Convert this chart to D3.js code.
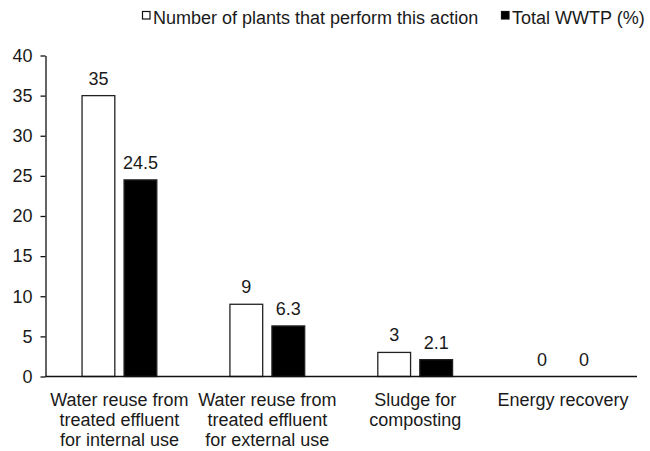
<!DOCTYPE html>
<html>
<head>
<meta charset="utf-8">
<script src="https://cdn.jsdelivr.net/npm/d3@7"></script>
<style>
  body { margin: 0; background: #fff; }
  svg { display: block; font-family: Arial, "Liberation Sans", sans-serif; }
  text { fill: #1a1a1a; }
</style>
</head>
<body>
<svg id="chart"></svg>
<script>
var width = 650;
var height = 451;

var categories = [
  ['Water reuse from', 'treated effluent', 'for internal use'],
  ['Water reuse from', 'treated effluent', 'for external use'],
  ['Sludge for', 'composting'],
  ['Energy recovery']
];
var seriesNames = ['Number of plants that perform this action', 'Total WWTP (%)'];
var plantCounts = [35, 9, 3, 0];
var totalPercent = [24.5, 6.3, 2.1, 0];
var yTicks = [0, 5, 10, 15, 20, 25, 30, 35, 40];

var plotLeft = 45.5;
var plotRight = 637;
var plotBottom = 376.5;
var plotTop = 55.5;

var svg = d3.select('#chart')
  .attr('width', width)
  .attr('height', height);

var x0 = d3.scaleBand()
  .domain(d3.range(categories.length))
  .range([plotLeft, plotRight]);

var x1 = d3.scaleBand()
  .domain([0, 1])
  .range([0, x0.bandwidth()])
  .paddingInner(0.22)
  .paddingOuter(0.87);

var yScale = d3.scaleLinear()
  .domain([0, 40])
  .range([plotBottom, plotTop]);

// y axis
var yAxis = svg.append('g')
  .attr('transform', 'translate(' + plotLeft + ',0)')
  .call(d3.axisLeft(yScale)
    .tickValues(yTicks)
    .tickSizeInner(5)
    .tickSizeOuter(0)
    .tickPadding(8));

yAxis.select('.domain').attr('stroke', '#111').attr('stroke-width', 1.3);
yAxis.selectAll('.tick line').attr('stroke', '#111').attr('stroke-width', 1.3);
yAxis.selectAll('.tick text')
  .attr('font-size', 18)
  .attr('font-family', 'Arial, "Liberation Sans", sans-serif')
  .attr('fill', '#1a1a1a');

// bars
var rows = categories.map((c, i) => ({ i: i, values: [plantCounts[i], totalPercent[i]] }));

var groups = svg.selectAll('.group')
  .data(rows)
  .enter()
  .append('g')
  .attr('class', 'group')
  .attr('transform', d => 'translate(' + x0(d.i) + ',0)');

groups.selectAll('rect')
  .data(d => d.values.map((v, s) => ({ s: s, v: v })).filter(d => d.v > 0))
  .enter()
  .append('rect')
  .attr('x', d => x1(d.s))
  .attr('y', d => yScale(d.v))
  .attr('width', x1.bandwidth())
  .attr('height', d => plotBottom - yScale(d.v))
  .attr('fill', d => d.s === 0 ? '#fff' : '#000')
  .attr('stroke', '#222')
  .attr('stroke-width', 1.3);

groups.selectAll('.val')
  .data(d => d.values.map((v, s) => ({ s: s, v: v })))
  .enter()
  .append('text')
  .attr('class', 'val')
  .attr('x', d => x1(d.s) + x1.bandwidth() / 2)
  .attr('y', d => yScale(d.v) - 11)
  .attr('text-anchor', 'middle')
  .attr('font-size', 18)
  .text(d => d.v);

// x axis line
svg.append('line')
  .attr('x1', plotLeft)
  .attr('x2', plotRight)
  .attr('y1', plotBottom)
  .attr('y2', plotBottom)
  .attr('stroke', '#111')
  .attr('stroke-width', 1.3);

// category labels
var labels = svg.selectAll('.cat')
  .data(categories)
  .enter()
  .append('text')
  .attr('class', 'cat')
  .attr('text-anchor', 'middle')
  .attr('font-size', 18)
  .attr('y', 406);

labels.each(function(lines, i) {
  d3.select(this).selectAll('tspan')
    .data(lines)
    .enter()
    .append('tspan')
    .attr('x', x0(i) + x0.bandwidth() / 2)
    .attr('dy', (d, j) => j === 0 ? 0 : 20)
    .text(d => d);
});

// legend
var legend = svg.append('g');
var legendX = [142, 501];

legend.selectAll('rect')
  .data(seriesNames)
  .enter()
  .append('rect')
  .attr('x', (d, i) => legendX[i] + 0.5)
  .attr('y', 11.5)
  .attr('width', 7.5)
  .attr('height', 7.5)
  .attr('fill', (d, i) => i === 0 ? '#fff' : '#000')
  .attr('stroke', '#111')
  .attr('stroke-width', 1.2);

legend.selectAll('text')
  .data(seriesNames)
  .enter()
  .append('text')
  .attr('x', (d, i) => legendX[i] + 11)
  .attr('y', 23.5)
  .attr('font-size', 18)
  .text(d => d);
</script>
</body>
</html>
